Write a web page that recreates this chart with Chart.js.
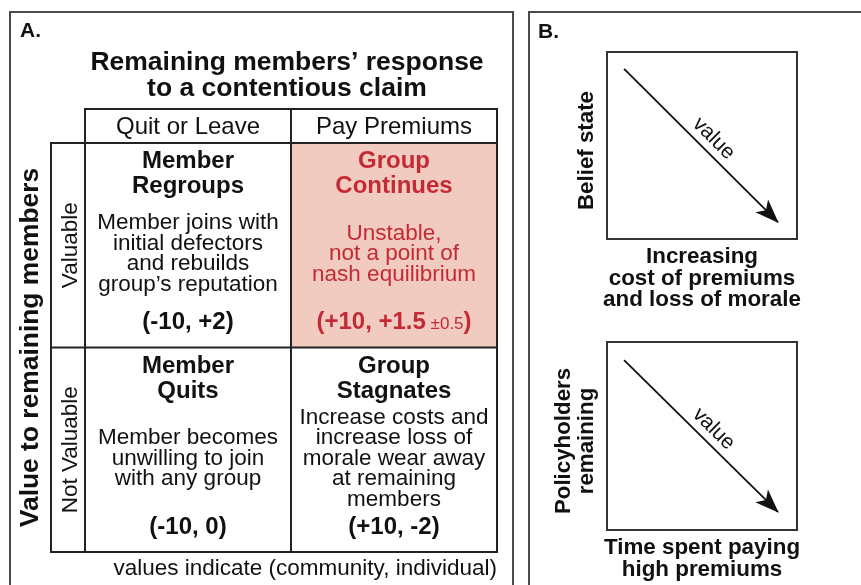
<!DOCTYPE html>
<html>
<head>
<meta charset="utf-8">
<script src="https://cdn.jsdelivr.net/npm/chart.js@4.4.0/dist/chart.umd.min.js"></script>
<style>
  html, body { margin: 0; padding: 0; background: #fff; }
  #wrap { position: relative; width: 861px; height: 585px; overflow: hidden; }
  #wrap canvas { position: absolute; left: 0; top: 0; }
</style>
</head>
<body>
<div id="wrap">
  <canvas id="matrixChart" width="861" height="585"></canvas>
  <canvas id="beliefChart" width="861" height="585"></canvas>
  <canvas id="holdersChart" width="861" height="585"></canvas>
</div>
<script>
// Panel A data: payoff matrix
const matrixTitle = ['Remaining members’ response', 'to a contentious claim'];
const rowAxisTitle = 'Value to remaining members';
const responses = ['Quit or Leave', 'Pay Premiums'];
const memberValues = ['Valuable', 'Not Valuable'];
const cellResponse = ['Quit or Leave', 'Pay Premiums', 'Quit or Leave', 'Pay Premiums'];
const cellValue = ['Valuable', 'Valuable', 'Not Valuable', 'Not Valuable'];
const outcomeTitles = [['Member', 'Regroups'], ['Group', 'Continues'], ['Member', 'Quits'], ['Group', 'Stagnates']];
const outcomeNotes = [
  ['Member joins with', 'initial defectors', 'and rebuilds', 'group’s reputation'],
  ['Unstable,', 'not a point of', 'nash equilibrium'],
  ['Member becomes', 'unwilling to join', 'with any group'],
  ['Increase costs and', 'increase loss of', 'morale wear away', 'at remaining', 'members'],
];
const communityPayoff = [-10, 10, -10, 10];
const individualPayoff = [2, 1.5, 0, -2];
const individualSpread = [0, 0.5, 0, 0];
const payoffNote = 'values indicate (community, individual)';
const unstableOutcome = 1;

// Panel B data: two value arrows
const beliefX = [0.09, 0.9];
const beliefY = [0.91, 0.09];
const beliefXLabel = ['Increasing', 'cost of premiums', 'and loss of morale'];
const beliefYLabel = ['Belief state'];
const holdersX = [0.09, 0.9];
const holdersY = [0.904, 0.096];
const holdersXLabel = ['Time spent paying', 'high premiums'];
const holdersYLabel = ['Policyholders', 'remaining'];
const arrowLabel = 'value';

const FONT = '"Liberation Sans", Arial, Helvetica, sans-serif';
const INK = '#111';
const RED = '#c42a35';
const PINK = '#f1cbbf';

function setFont(ctx, size, bold) {
  ctx.font = (bold ? 'bold ' : '') + size + 'px ' + FONT;
}

function text(ctx, s, x, y, size, bold, color, align) {
  setFont(ctx, size, bold);
  ctx.fillStyle = color || INK;
  ctx.textAlign = align || 'center';
  ctx.textBaseline = 'alphabetic';
  ctx.fillText(s, x, y);
}

function signed(v) {
  return v > 0 ? '+' + v : String(v);
}

// pieces of "(+10, +1.5 ±0.5)" drawn centred on cx
function drawPayoff(ctx, i, cx, y, color) {
  const parts = [{ s: '(' + signed(communityPayoff[i]) + ', ' + signed(individualPayoff[i]), size: 24, bold: true }];
  if (individualSpread[i]) {
    parts.push({ s: ' ±' + individualSpread[i], size: 17, bold: false });
  }
  parts.push({ s: ')', size: 24, bold: true });
  let total = 0;
  parts.forEach(p => { setFont(ctx, p.size, p.bold); p.w = ctx.measureText(p.s).width; total += p.w; });
  let x = cx - total / 2;
  parts.forEach(p => { text(ctx, p.s, x, y, p.size, p.bold, color, 'left'); x += p.w; });
}

const matrixPlugin = {
  id: 'matrix',
  afterDatasetsDraw(chart) {
    const ctx = chart.ctx;
    const area = chart.chartArea;
    const xs = chart.scales.x;
    const ys = chart.scales.y;
    const cw = area.width / responses.length;
    const ch = area.height / memberValues.length;
    const headH = 34;
    const labelW = 34;
    const meta = chart.getDatasetMeta(0);
    ctx.save();

    // panel frames
    ctx.strokeStyle = '#4a4a4a';
    ctx.lineWidth = 2;
    ctx.strokeRect(10, 12, 503, 620);
    ctx.strokeRect(529, 12, 400, 620);
    text(ctx, 'A.', 20, 37, 21, true, INK, 'left');
    text(ctx, 'B.', 538, 38, 21, true, INK, 'left');

    // highlighted cell
    meta.data.forEach((pt, i) => {
      if (i === unstableOutcome) {
        ctx.fillStyle = PINK;
        ctx.fillRect(pt.x - cw / 2, pt.y - ch / 2, cw, ch);
      }
    });

    // grid
    ctx.strokeStyle = '#222';
    ctx.lineWidth = 2;
    ctx.strokeRect(area.left, area.top - headH, area.width, area.height + headH);
    ctx.strokeRect(area.left - labelW, area.top, area.width + labelW, area.height);
    ctx.beginPath();
    const midX = xs.getPixelForValue(0) + cw / 2;
    const midY = ys.getPixelForValue(0) + ch / 2;
    ctx.moveTo(midX, area.top - headH);
    ctx.lineTo(midX, area.bottom);
    ctx.moveTo(area.left - labelW, midY);
    ctx.lineTo(area.right, midY);
    ctx.stroke();

    // title and headers
    const titleX = (area.left + area.right) / 2 - 4;
    matrixTitle.forEach((s, k) => text(ctx, s, titleX, 70 + k * 26, 26.5, true));
    responses.forEach((r, k) => text(ctx, r, xs.getPixelForValue(k), area.top - 9, 24, false));

    // row labels
    memberValues.forEach((v, k) => {
      ctx.save();
      ctx.translate(area.left - 8, ys.getPixelForValue(k));
      ctx.rotate(-Math.PI / 2);
      text(ctx, v, 0, 0, 22.5, false);
      ctx.restore();
    });
    ctx.save();
    ctx.translate(38, (area.top + area.bottom) / 2);
    ctx.rotate(-Math.PI / 2);
    text(ctx, rowAxisTitle, 0, 0, 26.4, true);
    ctx.restore();

    // cell contents
    meta.data.forEach((pt, i) => {
      const color = i === unstableOutcome ? RED : INK;
      const top = pt.y - ch / 2;
      outcomeTitles[i].forEach((s, k) => text(ctx, s, pt.x, top + 25 + k * 25, 24, true, color));
      const notes = outcomeNotes[i];
      const lh = 20.5;
      notes.forEach((s, k) => {
        text(ctx, s, pt.x, top + 117 + (k - (notes.length - 1) / 2) * lh, 22.5, false, color);
      });
      drawPayoff(ctx, i, pt.x, top + 186, color);
    });

    text(ctx, payoffNote, area.right, 575, 22.5, false, INK, 'right');
    ctx.restore();
  }
};

new Chart(document.getElementById('matrixChart'), {
  type: 'scatter',
  data: {
    datasets: [{
      data: cellResponse.map((r, i) => ({ x: r, y: cellValue[i] })),
      pointRadius: 0,
    }],
  },
  options: {
    responsive: false,
    animation: false,
    devicePixelRatio: 1,
    events: [],
    layout: { padding: { left: 85, top: 143, right: 364, bottom: 33 } },
    plugins: { legend: { display: false }, tooltip: { enabled: false } },
    scales: {
      x: { type: 'category', labels: responses, offset: true, display: false },
      y: { type: 'category', labels: memberValues, offset: true, display: false },
    },
  },
  plugins: [matrixPlugin],
});

const arrowPlugin = {
  id: 'arrowPanel',
  afterDatasetsDraw(chart, args, opts) {
    const ctx = chart.ctx;
    const area = chart.chartArea;
    const pts = chart.getDatasetMeta(0).data;
    const a = pts[0], b = pts[pts.length - 1];
    ctx.save();

    ctx.strokeStyle = '#333';
    ctx.lineWidth = 2;
    ctx.strokeRect(area.left, area.top, area.width, area.height);

    // arrow head
    const ang = Math.atan2(b.y - a.y, b.x - a.x);
    ctx.translate(b.x, b.y);
    ctx.rotate(ang);
    ctx.fillStyle = INK;
    ctx.beginPath();
    ctx.moveTo(1, 0);
    ctx.lineTo(-23, -9);
    ctx.lineTo(-17, 0);
    ctx.lineTo(-23, 9);
    ctx.closePath();
    ctx.fill();
    ctx.setTransform(1, 0, 0, 1, 0, 0);

    // label along arrow
    ctx.translate((a.x + b.x) / 2, (a.y + b.y) / 2);
    ctx.rotate(ang);
    text(ctx, arrowLabel, 4, -8, 21, false);
    ctx.setTransform(1, 0, 0, 1, 0, 0);

    const cx = (area.left + area.right) / 2;
    opts.xLabel.forEach((s, k) => text(ctx, s, cx, area.bottom + 24 + k * 21.5, 22.4, true));
    const ys = opts.yLabel;
    ys.forEach((s, k) => {
      ctx.save();
      ctx.translate(area.left - 14 - (ys.length - 1 - k) * 23, (area.top + area.bottom) / 2 + 5);
      ctx.rotate(-Math.PI / 2);
      text(ctx, s, 0, 0, 22.3, true);
      ctx.restore();
    });
    ctx.restore();
  }
};

function arrowChart(id, xs, ys, xLabel, yLabel, padding) {
  return new Chart(document.getElementById(id), {
    type: 'scatter',
    data: {
      datasets: [{
        data: xs.map((x, i) => ({ x: x, y: ys[i] })),
        showLine: true,
        borderColor: INK,
        borderWidth: 1.8,
        pointRadius: 0,
      }],
    },
    options: {
      responsive: false,
      animation: false,
      devicePixelRatio: 1,
      events: [],
      layout: { padding: padding },
      plugins: {
        legend: { display: false },
        tooltip: { enabled: false },
        arrowPanel: { xLabel: xLabel, yLabel: yLabel },
      },
      scales: {
        x: { type: 'linear', min: 0, max: 1, display: false },
        y: { type: 'linear', min: 0, max: 1, display: false },
      },
    },
    plugins: [arrowPlugin],
  });
}

arrowChart('beliefChart', beliefX, beliefY, beliefXLabel, beliefYLabel,
  { left: 607, right: 64, top: 52, bottom: 346 });
arrowChart('holdersChart', holdersX, holdersY, holdersXLabel, holdersYLabel,
  { left: 607, right: 64, top: 342, bottom: 55 });
</script>
</body>
</html>
